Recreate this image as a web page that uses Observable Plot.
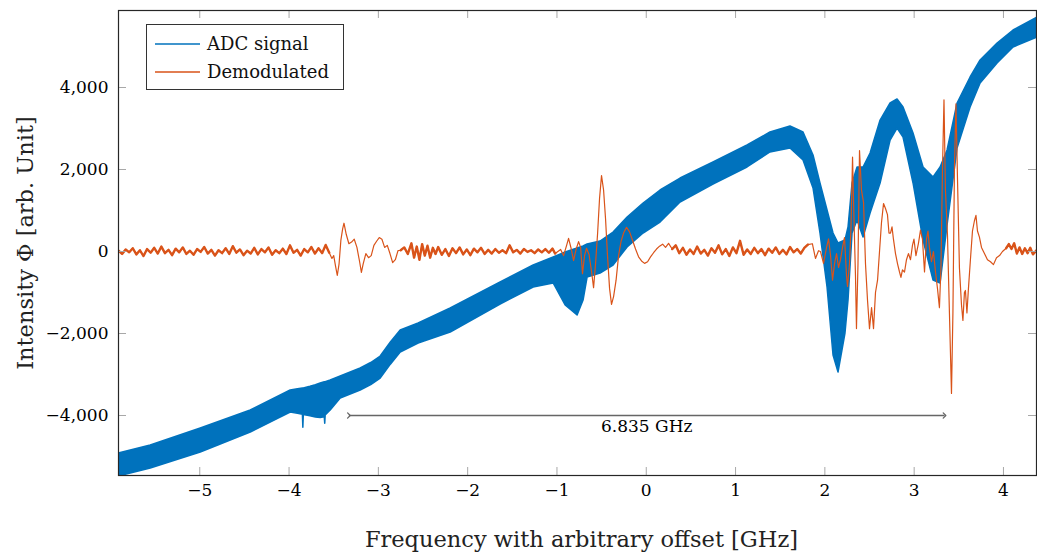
<!DOCTYPE html>
<html><head><meta charset="utf-8">
<script src="https://cdn.jsdelivr.net/npm/d3@7"></script>
<script src="https://cdn.jsdelivr.net/npm/@observablehq/plot@0.6"></script>
<style>body{margin:0;background:#fff} svg{display:block}</style>
</head><body><div id="chart"></div>
<script>
const xTicks = [-5,-4,-3,-2,-1,0,1,2,3,4];
const yTicks = [-4000,-2000,0,2000,4000];
const seriesNames = ["ADC signal","Demodulated"];
const seriesColors = ["#0072BD","#D95319"];
const xLabel = "Frequency with arbitrary offset [GHz]";
const yLabel = "Intensity \u03A6 [arb. Unit]";
const arrowX = [-3.33, 3.34];
const arrowY = -4000;
const arrowLabel = "6.835 GHz";

// ADC signal: envelope of the fast oscillating band
const adcX    = [-5.907,-5.549,-4.989,-4.429,-3.982,-3.900,-3.845,-3.840,-3.835,-3.760,-3.700,-3.646,-3.600,-3.595,-3.590,-3.534,-3.422,-3.198,-3.080,-2.974,-2.860,-2.750,-2.549,-2.190,-1.631,-1.261,-1.037,-0.903,-0.769,-0.702,-0.657,-0.512,-0.366,-0.209,-0.030,0.160,0.384,0.753,1.134,1.391,1.615,1.761,1.873,1.951,2.030,2.097,2.153,2.231,2.265,2.310,2.366,2.433,2.512,2.624,2.736,2.814,2.881,2.993,3.105,3.217,3.296,3.374,3.486,3.632,3.744,3.934,4.113,4.381];
const adcHigh = [-4927,-4732,-4317,-3878,-3390,-3360,-3340,-3340,-3340,-3300,-3260,-3219,-3190,-3190,-3190,-3146,-3049,-2854,-2720,-2561,-2220,-1927,-1756,-1390,-756,-341,-146,-24,73,122,171,244,463,829,1171,1488,1780,2171,2585,2902,3049,2902,2341,1659,1000,439,195,268,585,1659,2049,2049,2390,3195,3610,3707,3512,2878,2049,1805,2049,2463,3610,4244,4659,5073,5390,5707];
const adcLow  = [-5488,-5293,-4902,-4415,-3927,-3960,-3980,-4300,-3990,-4020,-4050,-4060,-4040,-4200,-4000,-3878,-3585,-3390,-3260,-3098,-2760,-2463,-2244,-1976,-1293,-878,-780,-1317,-1561,-1195,-634,-537,-341,98,439,707,1195,1634,2049,2415,2512,2220,1537,439,-878,-2537,-2951,-2000,-1195,439,756,341,927,1659,2707,3000,2780,1659,268,-707,-780,634,2512,3512,4098,4585,4976,5220];

// Demodulated signal: [frequency, value]
const demodulated = [
[-5.91,20],[-5.87,-60],[-5.83,50],[-5.79,-20],[-5.75,80],[-5.71,-70],[-5.67,30],[-5.63,-110],[-5.59,60],[-5.55,-30],
[-5.51,90],[-5.47,-50],[-5.43,120],[-5.39,-40],[-5.35,40],[-5.31,-90],[-5.27,70],[-5.23,-20],[-5.19,100],[-5.15,-60],
[-5.11,20],[-5.07,-80],[-5.03,60],[-4.99,-10],[-4.95,110],[-4.91,-50],[-4.87,40],[-4.83,-100],[-4.79,30],[-4.75,-40],
[-4.71,80],[-4.67,-60],[-4.63,130],[-4.59,-30],[-4.55,50],[-4.51,-90],[-4.47,20],[-4.43,-50],[-4.39,90],[-4.35,-70],
[-4.31,60],[-4.27,-20],[-4.23,100],[-4.19,-80],[-4.15,30],[-4.11,-40],[-4.07,70],[-4.03,-60],[-3.99,150],[-3.95,-30],
[-3.91,40],[-3.87,-100],[-3.83,60],[-3.79,-20],[-3.75,110],[-3.71,-50],[-3.67,80],[-3.63,-40],[-3.59,160],[-3.55,-30],
[-3.52,-170],[-3.50,-100],[-3.48,-350],[-3.46,-585],[-3.44,-300],[-3.42,270],[-3.40,550],[-3.385,690],[-3.36,420],[-3.33,190],
[-3.30,230],[-3.27,300],[-3.24,100],[-3.21,-250],[-3.19,-510],[-3.17,-300],[-3.14,-50],[-3.11,-150],[-3.08,-100],[-3.05,150],
[-3.02,250],[-2.99,340],[-2.96,300],[-2.93,100],[-2.90,150],[-2.87,-50],[-2.84,-270],[-2.81,-200],[-2.78,20],[-2.75,30],
[-2.71,100],[-2.67,-60],[-2.63,200],[-2.60,-150],[-2.57,120],[-2.54,-200],[-2.51,180],[-2.48,-100],[-2.45,140],[-2.42,-150],
[-2.39,90],[-2.36,-60],[-2.33,110],[-2.29,-80],[-2.25,60],[-2.21,-110],[-2.17,80],[-2.13,-40],[-2.09,100],[-2.05,-70],
[-2.01,50],[-1.97,-90],[-1.93,70],[-1.89,-20],[-1.85,90],[-1.81,-60],[-1.77,40],[-1.73,-50],[-1.69,60],[-1.65,-30],
[-1.61,30],[-1.57,-40],[-1.53,150],[-1.49,-20],[-1.45,40],[-1.41,-50],[-1.37,60],[-1.33,-10],[-1.29,30],[-1.25,-40],
[-1.21,50],[-1.17,-20],[-1.13,60],[-1.09,-30],[-1.05,70],[-1.02,-50],[-0.959,50],[-0.926,-100],[-0.892,150],[-0.870,320],
[-0.842,80],[-0.814,-220],[-0.786,50],[-0.758,240],[-0.735,100],[-0.714,-540],[-0.691,-100],[-0.669,80],[-0.640,-80],[-0.612,-500],
[-0.590,-880],[-0.568,-300],[-0.545,440],[-0.523,1300],[-0.501,1850],[-0.478,1500],[-0.456,800],[-0.434,-100],[-0.411,-900],[-0.389,-1290],
[-0.366,-1100],[-0.338,-700],[-0.310,-100],[-0.282,250],[-0.254,450],[-0.221,590],[-0.187,480],[-0.153,270],[-0.120,60],[-0.086,-130],
[-0.053,-230],[-0.019,-290],[0.015,-250],[0.048,-130],[0.082,-30],[0.115,60],[0.149,130],[0.183,180],[0.216,100],[0.250,200],
[0.29,60],[0.33,150],[0.37,-40],[0.41,90],[0.45,-80],[0.49,50],[0.53,-60],[0.57,120],[0.61,-50],[0.65,40],
[0.69,-100],[0.73,80],[0.77,-30],[0.81,150],[0.85,-70],[0.89,60],[0.93,-110],[0.97,100],[1.01,-40],[1.05,260],
[1.09,-80],[1.13,50],[1.17,-60],[1.21,90],[1.25,-40],[1.29,60],[1.33,-90],[1.37,70],[1.41,-30],[1.45,100],
[1.49,-60],[1.53,40],[1.57,-70],[1.61,110],[1.65,-20],[1.69,60],[1.73,-50],[1.77,90],[1.81,170],[1.860,190],
[1.895,-170],[1.929,20],[1.951,0],[1.985,-290],[2.019,100],[2.041,310],[2.064,-100],[2.086,-700],[2.108,-300],[2.131,-50],
[2.153,-390],[2.175,-200],[2.198,100],[2.220,340],[2.243,-600],[2.254,-850],[2.276,-300],[2.293,600],[2.310,2300],[2.326,800],
[2.343,-600],[2.354,-1880],[2.371,-300],[2.388,2460],[2.410,1500],[2.433,1200],[2.455,-300],[2.478,-1200],[2.500,-1880],[2.523,-1370],
[2.545,-1880],[2.567,-1000],[2.590,-700],[2.612,0],[2.634,700],[2.657,1170],[2.679,1050],[2.701,900],[2.718,450],[2.735,450],
[2.752,600],[2.768,300],[2.791,-50],[2.814,-300],[2.836,-500],[2.852,-630],[2.869,-450],[2.892,-500],[2.914,-200],[2.936,-50],
[2.959,-200],[2.981,150],[2.998,300],[3.020,-100],[3.048,200],[3.071,520],[3.093,300],[3.116,-500],[3.138,300],[3.155,500],
[3.171,100],[3.194,-250],[3.216,0],[3.239,-500],[3.261,-900],[3.283,-1370],[3.300,-400],[3.317,2000],[3.334,3700],[3.350,1500],
[3.373,400],[3.395,-1500],[3.418,-3460],[3.434,-1500],[3.451,2000],[3.468,3600],[3.485,1800],[3.507,-400],[3.530,-1300],[3.546,-1680],
[3.563,-1000],[3.574,-950],[3.591,-1500],[3.608,-900],[3.630,-200],[3.653,500],[3.675,750],[3.692,880],[3.709,500],[3.731,350],
[3.754,100],[3.776,0],[3.798,-100],[3.821,-200],[3.855,-250],[3.888,-320],[3.922,-150],[3.956,-100],[3.989,0],[4.03,80],
[4.06,180],[4.09,60],[4.12,200],[4.15,-50],[4.18,100],[4.21,-60],[4.24,80],[4.27,-40],[4.30,90],[4.33,-70],[4.37,30]
];
// quiet stretches of the demodulated trace (drawn as a denser, thicker trace)
const quietRanges = [[-5.95, -3.55], [-2.75, -1.0], [0.27, 1.84], [4.0, 4.4]];

const W = 1037, H = 552, mL = 118, mR = 1, mT = 10, mB = 77;
const plotW = W - mL - mR, plotH = H - mT - mB;
const tickLen = 8;
const tickColor = "#a8a8a8";
const fmt = d3.format(",");
const FONT = "DejaVu Serif";

const adc = adcX.map((x, i) => ({x, lo: adcLow[i], hi: adcHigh[i]}));
const demod = demodulated.map(([x, y]) => ({x, y}));
const quiet = quietRanges.flatMap(([a, b], k) => demod.filter(d => d.x >= a && d.x <= b).map(d => ({...d, k})));

const chart = Plot.plot({
  width: W, height: H,
  marginLeft: mL, marginRight: mR, marginTop: mT, marginBottom: mB,
  style: {fontFamily: FONT, fontSize: "17px", background: "#fff", color: "#000", overflow: "visible"},
  x: {domain: [-5.91, 4.37]},
  y: {domain: [-5463, 5878]},
  marks: [
    Plot.areaY(adc, {x: "x", y1: "lo", y2: "hi", fill: seriesColors[0], stroke: seriesColors[0], strokeWidth: 1.5, clip: true}),
    Plot.line(demod, {x: "x", y: "y", stroke: seriesColors[1], strokeWidth: 1.2, clip: true}),
    Plot.line(quiet, {x: "x", y: "y", z: "k", stroke: seriesColors[1], strokeWidth: 2.4, clip: true}),
    Plot.link([{a: arrowX[0], b: arrowX[1], y: arrowY}], {x1: "a", x2: "b", y1: "y", y2: "y", stroke: "#666", strokeWidth: 1.3, markerStart: "arrow", markerEnd: "arrow"}),
    Plot.text([{x: (arrowX[0] + arrowX[1]) / 2, y: arrowY, t: arrowLabel}], {x: "x", y: "y", text: "t", dy: 11, fontSize: 17, lineAnchor: "middle", fill: "#000"}),
    Plot.tickX(xTicks, {x: d => d, stroke: tickColor, insetTop: plotH - tickLen}),
    Plot.tickX(xTicks, {x: d => d, stroke: tickColor, insetBottom: plotH - tickLen}),
    Plot.tickY(yTicks, {y: d => d, stroke: tickColor, insetRight: plotW - tickLen}),
    Plot.tickY(yTicks, {y: d => d, stroke: tickColor, insetLeft: plotW - tickLen}),
    Plot.frame({stroke: "#262626", strokeWidth: 1.2}),
    Plot.axisX({ticks: xTicks, tickSize: 0, tickPadding: 8, tickFormat: fmt, label: null, fontSize: 17}),
    Plot.axisY({ticks: yTicks, tickSize: 0, tickPadding: 10, tickFormat: fmt, label: null, fontSize: 17}),
    Plot.text([xLabel], {frameAnchor: "bottom", textAnchor: "middle", dx: 4, dy: 71, lineAnchor: "bottom", fontSize: 22.5, fill: "#222"}),
    Plot.text([yLabel], {frameAnchor: "left", textAnchor: "middle", dx: -93, rotate: -90, lineAnchor: "middle", fontSize: 22.5, fill: "#222"})
  ]
});

// legend (inset box in the upper-left corner, as in the reference)
const svg = d3.select(chart);
const lg = svg.append("g").attr("font-family", FONT).attr("font-size", 18).attr("text-anchor", "start");
lg.append("rect").attr("x", 146.5).attr("y", 24.5).attr("width", 197).attr("height", 65)
  .attr("fill", "#fff").attr("stroke", "#333").attr("stroke-width", 1);
seriesNames.forEach((name, i) => {
  const cy = 44 + i * 28;
  lg.append("line").attr("x1", 155).attr("x2", 200).attr("y1", cy).attr("y2", cy)
    .attr("stroke", seriesColors[i]).attr("stroke-width", 1.3);
  lg.append("text").attr("x", 207).attr("y", cy + 6).attr("text-anchor", "start").attr("fill", "#111").text(name);
});

document.getElementById("chart").appendChild(chart);
</script>
</body></html>
